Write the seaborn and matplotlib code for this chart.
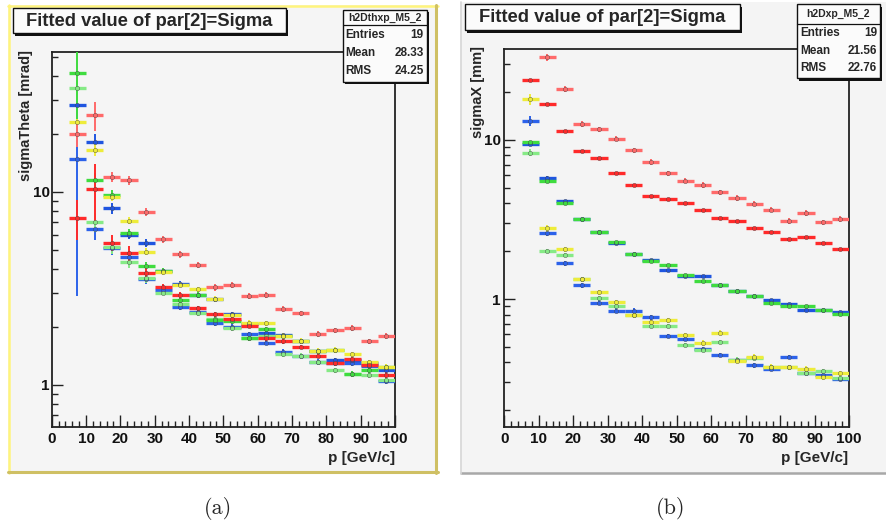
import numpy as np
import pandas as pd
import matplotlib
matplotlib.use("Agg")
import matplotlib.pyplot as plt
import seaborn as sns
from matplotlib.patches import Rectangle
from matplotlib.lines import Line2D
from matplotlib.ticker import MultipleLocator, FixedLocator, LogLocator, FuncFormatter, NullFormatter

# ---------------- data ----------------
p_bins = [7.5, 12.5, 17.5, 22.5, 27.5, 32.5, 37.5, 42.5, 47.5, 52.5,
          57.5, 62.5, 67.5, 72.5, 77.5, 82.5, 87.5, 92.5, 97.5]
bin_half_width = 2.5
series_names = ["blue2", "blue1", "green2", "green1", "yellow", "red2", "red1"]
series_colors = {"red1": "#ff6a6a", "red2": "#ff2a2a", "yellow": "#eeec3a",
                 "green1": "#3fdc3f", "green2": "#86ea86",
                 "blue1": "#1f55e0", "blue2": "#2c62ea"}

# (a) sigmaTheta [mrad]
theta_red1 = [20.0, 24.9, 12.0, 11.5, 7.9, 5.69, 4.77, 4.19, 3.20, 3.29, 2.90, 2.93, 2.48, 2.35, 1.84, 1.92, 1.97, 1.69, 1.79]
theta_red1_err = [2.9, 4.3, 0.7, 0.6, 0.35, 0.25, 0.2, 0.15, 0.12, 0.12, 0.1, 0.1, 0.08, 0.08, 0.06, 0.06, 0.07, 0.05, 0.06]
theta_red2 = [7.36, 10.4, 5.46, 4.81, 3.82, 3.21, 2.93, 2.50, 2.33, 2.21, 2.03, 1.75, 1.68, 1.57, 1.42, 1.30, 1.36, 1.27, 1.13]
theta_red2_err = [1.7, 3.5, 0.5, 0.45, 0.2, 0.12, 0.1, 0.08, 0.07, 0.06, 0.06, 0.05, 0.05, 0.04, 0.04, 0.04, 0.04, 0.04, 0.04]
theta_yellow = [23.0, 16.5, 9.4, 7.1, 4.91, 3.85, 3.30, 3.13, 2.80, 2.30, 2.10, 2.09, 1.80, 1.70, 1.50, 1.52, 1.44, 1.31, 1.24]
theta_yellow_err = [1.0, 1.2, 0.4, 0.3, 0.2, 0.12, 0.1, 0.1, 0.08, 0.07, 0.06, 0.06, 0.05, 0.05, 0.05, 0.05, 0.04, 0.04, 0.04]
theta_green1 = [41.2, 11.5, 9.64, 6.15, 4.15, 3.90, 2.75, 2.93, 2.17, 2.14, 1.75, 1.94, 1.80, 1.69, 1.50, 1.52, 1.14, 1.19, 1.24]
theta_green1_err = [21.0, 1.0, 0.6, 0.3, 0.2, 0.15, 0.1, 0.1, 0.07, 0.07, 0.06, 0.06, 0.05, 0.05, 0.05, 0.05, 0.04, 0.04, 0.04]
theta_green2 = [34.7, 7.0, 5.17, 4.35, 3.57, 3.01, 2.62, 2.35, 2.19, 1.97, 1.75, 1.80, 1.45, 1.42, 1.31, 1.19, 1.14, 1.13, 1.06]
theta_green2_err = [3.0, 0.8, 0.4, 0.3, 0.2, 0.1, 0.09, 0.08, 0.07, 0.06, 0.05, 0.05, 0.05, 0.04, 0.04, 0.04, 0.04, 0.04, 0.04]
theta_blue1 = [28.2, 18.2, 8.23, 6.0, 5.46, 3.91, 3.34, 2.93, 2.78, 2.32, 2.08, 1.85, 1.81, 1.69, 1.50, 1.34, 1.35, 1.30, 1.20]
theta_blue1_err = [1.5, 1.8, 0.5, 0.3, 0.25, 0.15, 0.12, 0.1, 0.08, 0.07, 0.06, 0.06, 0.05, 0.05, 0.05, 0.04, 0.04, 0.04, 0.04]
theta_blue2 = [14.9, 6.41, 5.10, 4.60, 3.55, 3.10, 2.55, 2.40, 2.09, 2.00, 1.83, 1.66, 1.49, 1.42, 1.32, 1.30, 1.30, 1.25, 1.05]
theta_blue2_err = [12.0, 0.8, 0.4, 0.3, 0.2, 0.12, 0.1, 0.08, 0.07, 0.06, 0.06, 0.05, 0.05, 0.04, 0.04, 0.04, 0.04, 0.04, 0.04]

# (b) sigmaX [mm]
x_red1 = [np.nan, 33.0, 20.9, 12.65, 11.67, 10.2, 8.62, 7.27, 6.16, 5.55, 5.22, 4.70, 4.32, 3.98, 3.65, 3.10, 3.48, 3.04, 3.19]
x_red1_err = [np.nan, 1.5, 0.9, 0.5, 0.45, 0.4, 0.33, 0.28, 0.24, 0.21, 0.2, 0.18, 0.16, 0.15, 0.14, 0.12, 0.13, 0.12, 0.12]
x_red2 = [23.7, 16.75, 11.39, 8.57, 7.74, 6.21, 5.24, 4.45, 4.26, 4.01, 3.62, 3.25, 3.11, 2.79, 2.63, 2.40, 2.46, 2.25, 2.07]
x_red2_err = [0.5, 0.3, 0.2, 0.12, 0.1, 0.08, 0.07, 0.06, 0.05, 0.05, 0.04, 0.04, 0.04, 0.03, 0.03, 0.03, 0.03, 0.03, 0.03]
x_yellow = [18.0, 2.79, 2.06, 1.33, 1.106, 0.962, 0.793, 0.72, 0.738, 0.597, 0.53, 0.617, 0.41, 0.436, 0.377, 0.374, 0.365, 0.322, 0.343]
x_yellow_err = [1.5, 0.15, 0.08, 0.05, 0.04, 0.03, 0.03, 0.025, 0.025, 0.02, 0.02, 0.02, 0.015, 0.015, 0.013, 0.013, 0.013, 0.012, 0.012]
x_green1 = [9.72, 5.51, 4.0, 3.18, 2.63, 2.27, 1.92, 1.73, 1.64, 1.42, 1.30, 1.22, 1.13, 1.05, 0.944, 0.90, 0.90, 0.857, 0.81]
x_green1_err = [0.2, 0.08, 0.06, 0.04, 0.03, 0.03, 0.02, 0.02, 0.02, 0.02, 0.015, 0.015, 0.013, 0.012, 0.011, 0.01, 0.01, 0.01, 0.01]
x_green2 = [8.32, 2.02, 1.90, 1.335, 1.014, 0.904, 0.793, 0.68, 0.68, 0.516, 0.48, 0.537, 0.416, 0.426, 0.377, 0.374, 0.346, 0.355, 0.319]
x_green2_err = [0.4, 0.06, 0.06, 0.04, 0.03, 0.03, 0.025, 0.02, 0.02, 0.018, 0.016, 0.018, 0.014, 0.014, 0.012, 0.012, 0.011, 0.011, 0.01]
x_blue1 = [9.45, 5.80, 4.12, 3.18, 2.63, 2.25, 1.92, 1.77, 1.53, 1.39, 1.39, 1.22, 1.13, 1.04, 0.99, 0.93, 0.857, 0.857, 0.836]
x_blue1_err = [0.2, 0.1, 0.06, 0.04, 0.03, 0.03, 0.02, 0.02, 0.02, 0.02, 0.015, 0.015, 0.013, 0.012, 0.011, 0.01, 0.01, 0.01, 0.01]
x_blue2 = [13.2, 2.61, 1.68, 1.22, 0.952, 0.845, 0.845, 0.77, 0.586, 0.563, 0.485, 0.447, 0.416, 0.383, 0.365, 0.432, 0.346, 0.335, 0.315]
x_blue2_err = [1.0, 0.1, 0.06, 0.04, 0.03, 0.03, 0.03, 0.025, 0.02, 0.02, 0.016, 0.015, 0.014, 0.013, 0.012, 0.014, 0.011, 0.011, 0.01]

panel_a = {"red1": (theta_red1, theta_red1_err), "red2": (theta_red2, theta_red2_err),
           "yellow": (theta_yellow, theta_yellow_err), "green1": (theta_green1, theta_green1_err),
           "green2": (theta_green2, theta_green2_err), "blue1": (theta_blue1, theta_blue1_err),
           "blue2": (theta_blue2, theta_blue2_err)}
panel_b = {"red1": (x_red1, x_red1_err), "red2": (x_red2, x_red2_err),
           "yellow": (x_yellow, x_yellow_err), "green1": (x_green1, x_green1_err),
           "green2": (x_green2, x_green2_err), "blue1": (x_blue1, x_blue1_err),
           "blue2": (x_blue2, x_blue2_err)}


def to_long(panel):
    rows = []
    for name, (vals, errs) in panel.items():
        for p, v, e in zip(p_bins, vals, errs):
            rows.append({"p": p, "value": v, "err": e, "series": name})
    return pd.DataFrame(rows).dropna()


df_a = to_long(panel_a)
df_b = to_long(panel_b)

# ---------------- style ----------------
sns.set_style("ticks")
plt.rcParams["font.family"] = ["Liberation Sans", "DejaVu Sans"]
plt.rcParams["font.weight"] = "bold"
plt.rcParams["axes.labelweight"] = "bold"

W, H = 887, 527
fig = plt.figure(figsize=(W / 100, H / 100), dpi=100)
fig.patch.set_facecolor("white")


def fx(x):
    return x / W


def fy(y):
    return 1 - y / H


def rect(x0, y0, x1, y1, **kw):
    r = Rectangle((fx(x0), fy(y1)), (x1 - x0) / W, (y1 - y0) / H,
                  transform=fig.transFigure, **kw)
    fig.add_artist(r)
    return r


def seg(x0, y0, x1, y1, **kw):
    fig.add_artist(Line2D([fx(x0), fx(x1)], [fy(y0), fy(y1)], transform=fig.transFigure, **kw))


def ftext(x, y, s, **kw):
    fig.text(fx(x), fy(y), s, **kw)


# panel backgrounds
rect(8, 5, 438, 473, facecolor="#f5f5f5", edgecolor="none", zorder=-10)
seg(8, 6, 438, 6, color="#fff47c", lw=1.8, zorder=-9)
seg(9, 5, 9, 473, color="#fff47c", lw=1.8, zorder=-9)
seg(8, 472, 438, 472, color="#cfc064", lw=2.2, zorder=-9)
seg(436.5, 5, 436.5, 473, color="#cfc064", lw=2.2, zorder=-9)

rect(461, 2, 887, 474, facecolor="#f4f4f4", edgecolor="none", zorder=-10)
seg(461, 473, 887, 473, color="#a8a8a8", lw=1.8, zorder=-9)
seg(461.5, 2, 461.5, 474, color="#d6d6d6", lw=1.2, zorder=-9)

axL = fig.add_axes([fx(51.7), fy(426.7), (395 - 51.7) / W, (426.7 - 52) / H])
axR = fig.add_axes([fx(504.3), fy(426.7), (849 - 504.3) / W, (426.7 - 49) / H])


def draw_panel(ax, df):
    for name in series_names:
        d = df[df["series"] == name]
        col = series_colors[name]
        eb = ax.errorbar(d["p"], d["value"], xerr=bin_half_width, yerr=d["err"], fmt="none",
                         ecolor=col, capsize=0, zorder=3)
        eb[2][0].set_linewidth(2.4)
        eb[2][1].set_linewidth(1.4)
        sns.scatterplot(x=d["p"].to_numpy(), y=d["value"].to_numpy(), color=col, s=9,
                        linewidth=0.3, edgecolor="#444444", ax=ax, zorder=4, legend=False)


def style_axes(ax, ylim, ypad):
    ax.set_facecolor("none")
    ax.set_yscale("log")
    ax.set_xlim(0, 100)
    ax.set_ylim(*ylim)
    ax.xaxis.set_major_locator(MultipleLocator(10))
    ax.xaxis.set_minor_locator(MultipleLocator(2))
    ax.yaxis.set_major_locator(FixedLocator([1, 10]))
    ax.yaxis.set_minor_locator(LogLocator(base=10, subs=np.arange(2, 10), numticks=20))
    ax.yaxis.set_major_formatter(FuncFormatter(lambda v, pos: f"{v:g}"))
    ax.yaxis.set_minor_formatter(NullFormatter())
    ax.tick_params(axis="both", which="both", direction="in", top=False, right=False,
                   color="#222222", width=1.0, labelsize=11, labelcolor="#111111")
    ax.tick_params(axis="x", which="major", length=8.5, pad=4)
    ax.tick_params(axis="x", which="minor", length=4)
    ax.tick_params(axis="y", which="major", length=8, pad=ypad)
    ax.tick_params(axis="y", which="minor", length=4.2)
    for lab in ax.get_xticklabels() + ax.get_yticklabels():
        lab.set_fontweight("bold")
    for sp in ax.spines.values():
        sp.set_visible(True)
        sp.set_linewidth(1.3)
        sp.set_color("#222222")
    ax.set_xlabel("")
    ax.set_ylabel("")


draw_panel(axL, df_a)
draw_panel(axR, df_b)
style_axes(axL, (0.608, 53.1), 1.5)
style_axes(axR, (0.158, 37.3), 2.5)

# axis titles
ftext(26, 50, "sigmaTheta [mrad]", rotation=90, ha="center", va="top", fontsize=10.5, fontweight="bold")
ftext(478, 46, "sigmaX [mm]", rotation=90, ha="center", va="top", fontsize=10.5, fontweight="bold")
ftext(395, 458, "p [GeV/c]", ha="right", va="center", fontsize=11, fontweight="bold")
ftext(848, 458, "p [GeV/c]", ha="right", va="center", fontsize=11, fontweight="bold")


# title boxes
def title_box(x0, y0, x1, y1, text):
    rect(x0 + 2.5, y0 + 2.5, x1 + 2.5, y1 + 2.5, facecolor="#111111", edgecolor="none", zorder=6)
    rect(x0, y0, x1, y1, facecolor="#fbfbfb", edgecolor="#111111", lw=1.0, zorder=7)
    ftext((x0 + x1) / 2, (y0 + y1) / 2 + 0.5, text, ha="center", va="center",
          fontsize=13.2, fontweight="bold", zorder=8)


title_box(12.7, 8, 286, 33, "Fitted value of par[2]=Sigma")
title_box(465, 4, 740, 30, "Fitted value of par[2]=Sigma")


# stats boxes
def stats_box(x0, y0, x1, ysep, y1, header, rows, row_ys):
    rect(x0 + 2.5, y0 + 2.5, x1 + 2.5, y1 + 2.5, facecolor="#111111", edgecolor="none", zorder=6)
    rect(x0, y0, x1, y1, facecolor="#fbfbfb", edgecolor="#111111", lw=1.0, zorder=7)
    seg(x0, ysep, x1, ysep, color="#111111", lw=0.9, zorder=8)
    ftext((x0 + x1) / 2, (y0 + ysep) / 2, header, ha="center", va="center",
          fontsize=7.5, fontweight="bold", zorder=8)
    for (lab, val), ry in zip(rows, row_ys):
        ftext(x0 + 3, ry, lab, ha="left", va="center", fontsize=8.5, fontweight="bold", zorder=8)
        ftext(x1 - 3, ry, val, ha="right", va="center", fontsize=8.5, fontweight="bold", zorder=8)


stats_a_rows = [("Entries", "19"), ("Mean", "28.33"), ("RMS", "24.25")]
stats_b_rows = [("Entries", "19"), ("Mean", "21.56"), ("RMS", "22.76")]
stats_box(342.7, 10, 426.7, 25, 81.7, "h2Dthxp_M5_2", stats_a_rows, [35, 53, 71])
stats_box(797, 4, 880, 24, 78, "h2Dxp_M5_2", stats_b_rows, [33, 50.5, 68])

# captions
ftext(218, 508, "(a)", ha="center", va="center", fontsize=16, fontfamily="cmr10", fontweight="normal")
ftext(671, 508, "(b)", ha="center", va="center", fontsize=16, fontfamily="cmr10", fontweight="normal")

fig.savefig("out.png", dpi=100)
